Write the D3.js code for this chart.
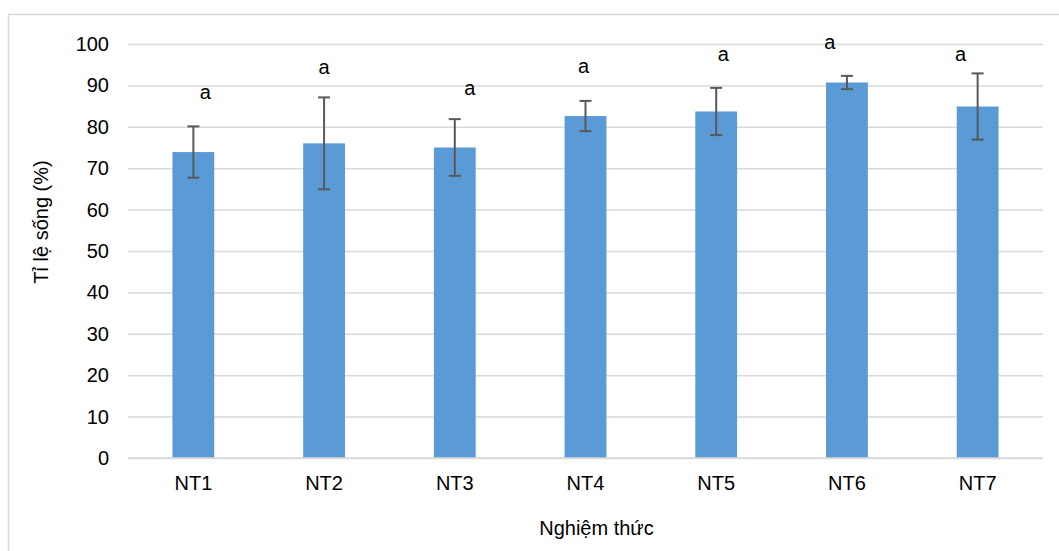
<!DOCTYPE html>
<html>
<head>
<meta charset="utf-8">
<script src="https://cdn.jsdelivr.net/npm/d3@7"></script>
<style>
  html, body { margin: 0; padding: 0; background: #fff; }
  svg { display: block; font-family: "Liberation Sans", Arial, sans-serif; }
</style>
</head>
<body>
<svg id="chart" width="1059" height="551"></svg>
<script>
// ---- data ----
const categories = ["NT1", "NT2", "NT3", "NT4", "NT5", "NT6", "NT7"];
const values     = [73.9, 76.0, 75.0, 82.6, 83.7, 90.7, 84.9];
const errors     = [6.2, 11.1, 6.85, 3.65, 5.7, 1.6, 8.0];
const letters    = ["a", "a", "a", "a", "a", "a", "a"];
const letterLevel = [86.7, 92.8, 87.7, 93.1, 95.9, 98.8, 95.9]; // baseline, in data units
const yTicks     = [0, 10, 20, 30, 40, 50, 60, 70, 80, 90, 100];
const yTitle = "Tỉ lệ sống (%)";
const xTitle = "Nghiệm thức";

// ---- layout ----
const letterDx = [12, 0, 15, -2, 7, -17, -17];
const plot = { left: 128, right: 1043, top: 44, bottom: 458 };
const FS = "20px";

const svg = d3.select("#chart");

// outer chart border (extends past the window edges)
svg.append("rect")
  .attr("x", 8.5).attr("y", 14.5)
  .attr("width", 1100).attr("height", 600)
  .attr("fill", "#fff").attr("stroke", "#d9d9d9").attr("stroke-width", 1.5);

const x = d3.scaleBand().domain(categories).range([plot.left, plot.right]).paddingInner(0.68).paddingOuter(0.34);
const y = d3.scaleLinear().domain([0, 100]).range([plot.bottom, plot.top]);

// gridlines
const yAxis = d3.axisLeft(y).tickValues(yTicks).tickSize(-(plot.right - plot.left)).tickPadding(19);
const gy = svg.append("g").attr("transform", `translate(${plot.left},0)`).call(yAxis);
gy.select(".domain").remove();
gy.selectAll(".tick line").attr("stroke", "#d9d9d9").attr("stroke-width", 1.5);
gy.selectAll(".tick text").attr("fill", "#000").attr("font-size", FS)
  .attr("font-family", "Liberation Sans, Arial, sans-serif");

// bars
svg.append("g").selectAll("rect").data(categories).join("rect")
  .attr("x", d => x(d))
  .attr("y", (d, i) => y(values[i]))
  .attr("width", x.bandwidth())
  .attr("height", (d, i) => y(0) - y(values[i]))
  .attr("fill", "#5b9bd5");

// x axis baseline over bars
svg.append("line")
  .attr("x1", plot.left).attr("x2", plot.right)
  .attr("y1", y(0)).attr("y2", y(0))
  .attr("stroke", "#d9d9d9").attr("stroke-width", 1.5);

// error bars
const eg = svg.append("g").attr("stroke", "#595959").attr("stroke-width", 2);
categories.forEach((c, i) => {
  const cx = x(c) + x.bandwidth() / 2;
  const y1 = y(values[i] + errors[i]), y2 = y(values[i] - errors[i]);
  eg.append("line").attr("x1", cx).attr("x2", cx).attr("y1", y1).attr("y2", y2);
  eg.append("line").attr("x1", cx - 6).attr("x2", cx + 6).attr("y1", y1).attr("y2", y1);
  eg.append("line").attr("x1", cx - 6).attr("x2", cx + 6).attr("y1", y2).attr("y2", y2);
});

// letters
svg.append("g").selectAll("text").data(categories).join("text")
  .attr("x", (d, i) => x(d) + x.bandwidth() / 2 + letterDx[i])
  .attr("y", (d, i) => y(letterLevel[i]))
  .attr("text-anchor", "middle")
  .attr("font-size", FS)
  .attr("fill", "#000")
  .text((d, i) => letters[i]);

// x axis labels
const xAxis = d3.axisBottom(x).tickSize(0).tickPadding(18);
const gx = svg.append("g").attr("transform", `translate(0,${plot.bottom})`).call(xAxis);
gx.select(".domain").remove();
gx.selectAll(".tick text").attr("fill", "#000").attr("font-size", FS)
  .attr("font-family", "Liberation Sans, Arial, sans-serif");

// titles
svg.append("text")
  .attr("x", (plot.left + plot.right) / 2 + 11).attr("y", 535)
  .attr("text-anchor", "middle").attr("font-size", FS).attr("fill", "#000")
  .text(xTitle);

svg.append("text")
  .attr("transform", "translate(48,222) rotate(-90)")
  .attr("text-anchor", "middle").attr("font-size", FS).attr("fill", "#000")
  .text(yTitle);
</script>
</body>
</html>
